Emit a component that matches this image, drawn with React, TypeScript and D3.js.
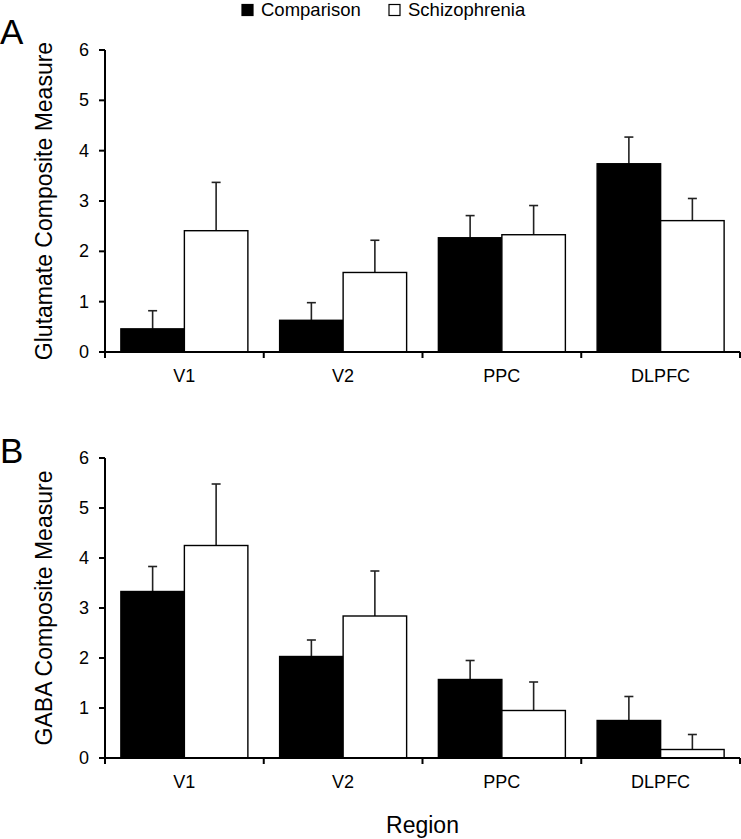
import React from "react";
import * as d3 from "d3";

const categories = ["V1", "V2", "PPC", "DLPFC"];
const seriesNames = ["Comparison", "Schizophrenia"];
const yTicks = [0, 1, 2, 3, 4, 5, 6];

const gluComparison = [0.46, 0.63, 2.27, 3.74];
const gluComparisonErr = [0.36, 0.35, 0.44, 0.53];
const gluSchizophrenia = [2.41, 1.58, 2.33, 2.61];
const gluSchizophreniaErr = [0.96, 0.64, 0.58, 0.44];

const gabaComparison = [3.33, 2.03, 1.57, 0.75];
const gabaComparisonErr = [0.5, 0.33, 0.38, 0.48];
const gabaSchizophrenia = [4.25, 2.84, 0.95, 0.17];
const gabaSchizophreniaErr = [1.23, 0.9, 0.57, 0.3];

const FONT = "'Liberation Sans', Arial, Helvetica, sans-serif";
const fills = ["#000000", "#ffffff"];

const x0 = d3.scaleBand<string>().domain(categories).range([105, 740]).padding(0);
const x1 = d3
  .scaleBand<string>()
  .domain(seriesNames)
  .range([0, x0.bandwidth()])
  .paddingInner(0)
  .paddingOuter(0.25);

type PanelProps = {
  letter: string;
  letterY: number;
  title: string;
  top: number;
  bottom: number;
  values: number[][];
  errors: number[][];
};

function Panel({ letter, letterY, title, top, bottom, values, errors }: PanelProps) {
  const y = d3.scaleLinear().domain([0, 6]).range([bottom, top]);
  const left = x0.range()[0];
  const right = x0.range()[1];
  const boundaries = [...categories.map((c) => x0(c) as number), right];
  return (
    <g>
      <text x={0} y={letterY} fontSize={35} fontFamily={FONT} fill="#000">
        {letter}
      </text>
      <text
        transform={`translate(44,${(top + bottom) / 2}) rotate(-90)`}
        textAnchor="middle"
        dominantBaseline="central"
        fontSize={23}
        fontFamily={FONT}
        fill="#000"
      >
        {title}
      </text>
      {yTicks.map((t) => (
        <g key={t}>
          <line x1={left - 6} x2={left} y1={y(t)} y2={y(t)} stroke="#000" strokeWidth={2} />
          <text
            x={left - 16}
            y={y(t)}
            textAnchor="end"
            dominantBaseline="central"
            fontSize={18}
            fontFamily={FONT}
            fill="#000"
          >
            {t}
          </text>
        </g>
      ))}
      {categories.map((c, i) =>
        seriesNames.map((s, j) => {
          const bx = (x0(c) as number) + (x1(s) as number);
          const bw = x1.bandwidth();
          const v = values[j][i];
          const e = errors[j][i];
          const cx = bx + bw / 2;
          return (
            <g key={c + s}>
              <line x1={cx} x2={cx} y1={y(v)} y2={y(v + e)} stroke="#222" strokeWidth={1.6} />
              <line x1={cx - 4.5} x2={cx + 4.5} y1={y(v + e)} y2={y(v + e)} stroke="#222" strokeWidth={1.6} />
              <rect
                x={bx}
                y={y(v)}
                width={bw}
                height={bottom - y(v)}
                fill={fills[j]}
                stroke="#000"
                strokeWidth={1.4}
              />
            </g>
          );
        })
      )}
      <line x1={left} x2={left} y1={top} y2={bottom + 1} stroke="#000" strokeWidth={2} />
      <line x1={left} x2={right} y1={bottom} y2={bottom} stroke="#000" strokeWidth={2.2} />
      {boundaries.map((b, i) => (
        <line key={i} x1={b} x2={b} y1={bottom} y2={bottom + 6} stroke="#000" strokeWidth={2} />
      ))}
      {categories.map((c) => (
        <text
          key={c}
          x={(x0(c) as number) + x0.bandwidth() / 2}
          y={bottom + 30}
          textAnchor="middle"
          fontSize={18}
          fontFamily={FONT}
          fill="#000"
        >
          {c}
        </text>
      ))}
    </g>
  );
}

export default function App() {
  const legendX = [242, 389];
  return (
    <div style={{ position: "absolute", left: 0, top: 0 }}>
      <svg width={741} height={839} style={{ display: "block", background: "#fff" }}>
        <rect x={0} y={0} width={741} height={839} fill="#fff" />
        {seriesNames.map((s, j) => (
          <g key={s}>
            <rect
              x={legendX[j]}
              y={4.5}
              width={11}
              height={11}
              fill={fills[j]}
              stroke="#000"
              strokeWidth={1.2}
            />
            <text x={legendX[j] + 19} y={16} fontSize={18.5} fontFamily={FONT} fill="#000">
              {s}
            </text>
          </g>
        ))}
        <Panel
          letter="A"
          letterY={44}
          title="Glutamate Composite Measure"
          top={50}
          bottom={352}
          values={[gluComparison, gluSchizophrenia]}
          errors={[gluComparisonErr, gluSchizophreniaErr]}
        />
        <Panel
          letter="B"
          letterY={463}
          title="GABA Composite Measure"
          top={458}
          bottom={758}
          values={[gabaComparison, gabaSchizophrenia]}
          errors={[gabaComparisonErr, gabaSchizophreniaErr]}
        />
        <text x={422.5} y={833} textAnchor="middle" fontSize={23} fontFamily={FONT} fill="#000">
          Region
        </text>
      </svg>
    </div>
  );
}
